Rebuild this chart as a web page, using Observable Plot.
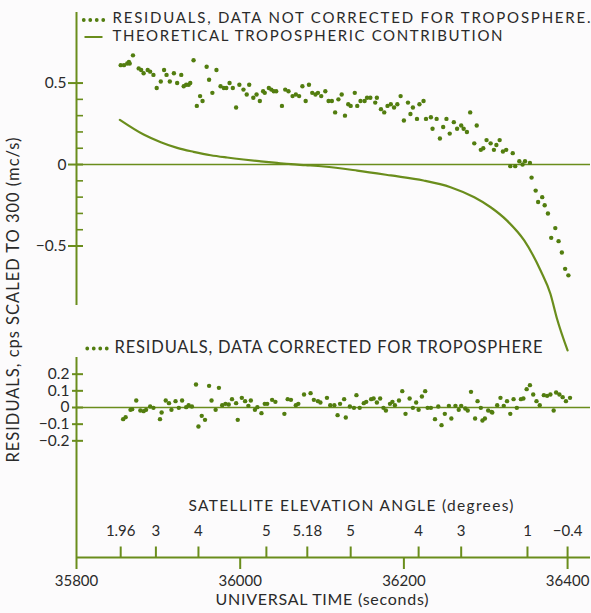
<!DOCTYPE html>
<html>
<head>
<meta charset="utf-8">
<script src="https://cdn.jsdelivr.net/npm/d3@7"></script>
<script src="https://cdn.jsdelivr.net/npm/@observablehq/plot@0.6"></script>
<style>
  html, body { margin: 0; padding: 0; background: #fcfbfc; }
  #chart { position: relative; width: 591px; height: 613px; overflow: hidden; }
  #chart svg { position: absolute; left: 0; top: 0; }
</style>
</head>
<body>
<div id="chart"></div>
<script>
// ---------- data ----------
const timeTicks = [35800, 36000, 36200, 36400];
const xDomain = [35800, 36428];

// Residuals, data NOT corrected for troposphere (top panel)
const uncorrT = [35854,35858,35862,35864,35865,35869,35876,35879,35882,35887,
  35890,35894,35898,35903,35907,35910,35914,35919,35923,35928,
  35931,35934,35937,35939,35943,35947,35951,35954,35959,35962,
  35966,35971,35976,35980,35983,35987,35991,35995,35999,36004,
  36008,36011,36016,36020,36024,36028,36030,36035,36038,36041,
  36044,36051,36055,36059,36064,36068,36072,36076,36080,36084,
  36088,36092,36095,36099,36104,36108,36112,36116,36120,36124,
  36128,36132,36135,36140,36143,36147,36152,36155,36159,36165,
  36167,36172,36176,36180,36184,36188,36192,36196,36200,36205,
  36208,36211,36216,36219,36224,36227,36233,36235,36240,36244,
  36248,36252,36256,36261,36265,36270,36273,36277,36281,36286,
  36289,36294,36297,36301,36306,36310,36313,36317,36321,36325,
  36330,36333,36336,36341,36345,36348,36354,36356,36361,36364,
  36369,36372,36376,36380,36385,36389,36393,36397,36401];
const uncorrV = [0.61,0.61,0.62,0.63,0.62,0.67,0.59,0.58,0.56,0.58,
  0.57,0.55,0.47,0.51,0.58,0.55,0.51,0.56,0.50,0.55,
  0.48,0.49,0.49,0.50,0.64,0.36,0.42,0.39,0.60,0.52,
  0.44,0.58,0.48,0.47,0.47,0.50,0.47,0.35,0.49,0.46,
  0.43,0.49,0.41,0.43,0.39,0.45,0.44,0.47,0.46,0.45,
  0.45,0.36,0.46,0.45,0.42,0.43,0.42,0.48,0.39,0.49,
  0.44,0.43,0.44,0.42,0.45,0.39,0.39,0.32,0.40,0.43,
  0.30,0.37,0.36,0.44,0.36,0.39,0.39,0.41,0.41,0.38,
  0.41,0.34,0.32,0.36,0.37,0.35,0.37,0.42,0.27,0.38,
  0.31,0.35,0.28,0.37,0.39,0.28,0.29,0.22,0.28,0.16,
  0.23,0.28,0.19,0.26,0.22,0.24,0.22,0.20,0.32,0.13,
  0.24,0.09,0.10,0.15,0.13,0.09,0.12,0.15,0.08,0.09,
  -0.01,0.07,-0.01,0.02,0.00,0.02,0.01,-0.08,-0.16,-0.23,
  -0.20,-0.25,-0.30,-0.45,-0.39,-0.47,-0.54,-0.64,-0.68];

// Theoretical tropospheric contribution (top panel line)
const theoT = [35853,35882,35903,35923,35943,35964,35984,36004,36025,36045,36062,36080,
  36102,36143,36184,36224,36257,36286,36306,36326,36347,36367,36379,36387,36400];
const theoV = [0.274,0.184,0.137,0.102,0.078,0.057,0.043,0.031,0.020,0.010,0.002,-0.004,
  -0.012,-0.037,-0.067,-0.098,-0.139,-0.201,-0.262,-0.344,-0.466,-0.650,-0.793,-0.945,-1.141];

// Residuals, data corrected for troposphere (bottom panel)
const corrT = [35857,35860,35866,35868,35873,35878,35882,35885,35890,35894,
  35902,35904,35909,35913,35916,35921,35925,35929,35934,35937,
  35941,35946,35949,35953,35957,35962,35965,35970,35974,35978,
  35982,35986,35990,35995,35997,36002,36006,36010,36013,36018,
  36021,36026,36030,36033,36039,36043,36054,36058,36062,36068,
  36071,36078,36086,36090,36095,36098,36106,36110,36115,36119,
  36122,36127,36129,36134,36139,36142,36146,36151,36154,36160,
  36163,36167,36171,36175,36178,36183,36186,36189,36194,36198,
  36202,36207,36211,36215,36218,36222,36226,36229,36233,36238,
  36242,36246,36250,36255,36258,36263,36267,36270,36275,36278,
  36282,36287,36290,36294,36296,36299,36303,36307,36308,36314,
  36318,36322,36326,36330,36334,36338,36343,36346,36350,36354,
  36358,36362,36366,36371,36375,36379,36383,36386,36390,36394,
  36398,36403];
const corrV = [-0.070,-0.058,-0.014,-0.010,0.042,-0.018,-0.022,-0.014,0.006,-0.002,
  -0.070,-0.030,0.042,0.026,-0.014,0.038,-0.002,0.042,0.002,0.014,
  0.006,0.138,-0.114,-0.050,-0.074,0.130,0.042,-0.014,0.118,0.014,
  0.022,0.018,0.050,0.026,-0.074,0.058,0.038,0.010,0.042,-0.014,
  0.002,-0.034,0.022,0.022,0.046,0.034,-0.038,0.050,0.046,0.014,
  0.022,0.078,0.086,0.046,0.038,0.030,0.058,0.014,0.014,-0.046,
  0.022,0.050,-0.060,0.006,-0.002,0.074,-0.002,0.026,0.034,0.050,
  0.054,0.030,0.054,-0.002,-0.018,0.022,0.034,0.014,0.042,0.098,
  -0.038,0.054,-0.002,0.030,-0.014,0.066,0.098,-0.002,-0.002,-0.070,
  0.006,-0.106,-0.038,0.010,-0.066,0.010,-0.014,0.010,-0.006,-0.018,
  0.094,-0.066,0.038,-0.002,-0.078,-0.066,-0.018,-0.026,-0.030,0.014,
  0.058,0.010,0.038,-0.038,0.050,-0.002,0.050,0.054,0.110,0.134,
  0.078,0.038,0.014,0.074,0.070,0.078,-0.018,0.090,0.078,0.062,
  0.038,0.058];

// Satellite elevation angle scale (time position -> label)
const elevT = [35854, 35897, 35949, 36032, 36082, 36135, 36218, 36270, 36351, 36400];
const elevLabels = ["1.96", "3", "4", "5", "5.18", "5", "4", "3", "1", "\u22120.4"];

// Y ticks
const topDomain = [-0.865, 0.933];
const topMajor = [-0.5, 0, 0.5];
const topMinor = [-0.4, -0.3, -0.2, -0.1, 0.1, 0.2, 0.3, 0.4];
const botDomain = [-0.9, 0.3];
const botMajor = [-0.2, -0.1, 0, 0.1, 0.2];

// Texts
const legendTop1 = "RESIDUALS, DATA NOT CORRECTED FOR TROPOSPHERE.";
const legendTop2 = "THEORETICAL TROPOSPHERIC CONTRIBUTION";
const legendBot = "RESIDUALS, DATA CORRECTED FOR TROPOSPHERE";
const yTitle = "RESIDUALS, cps SCALED TO 300 (mc/s)";
const elevTitle = "SATELLITE ELEVATION ANGLE (degrees)";
const xTitle = "UNIVERSAL TIME (seconds)";

// ---------- styling ----------
const W = 591, H = 613;
const G = "#6a8d1c", DOT = "#527d0f", TXT = "#2a2a2a";
const FONT = "Lato, 'Open Sans', sans-serif";
const fmt = d => d === 0 ? "0" : (d < 0 ? "\u2212" : "") + Math.abs(d);

const uncorr = uncorrT.map((t, i) => ({t, v: uncorrV[i]}));
const theo = theoT.map((t, i) => ({t, v: theoV[i]}));
const corr = corrT.map((t, i) => ({t, v: corrV[i]}));

const fourDots = {draw(ctx) { for (let i = 0; i < 4; i++) { const cx = -9.75 + i * 6.5; ctx.moveTo(cx + 1.9, 0); ctx.arc(cx, 0, 1.9, 0, 2 * Math.PI); } }};
const dash = {draw(ctx) { ctx.moveTo(-9, -1); ctx.lineTo(9, -1); ctx.lineTo(9, 1); ctx.lineTo(-9, 1); ctx.closePath(); }};

const common = {
  width: W, height: H, marginLeft: 76, marginRight: 1,
  style: {background: "transparent", fontFamily: FONT, color: TXT, overflow: "visible"}
};

// ---------- top panel ----------
const topPlot = Plot.plot({
  ...common,
  marginTop: 12, marginBottom: H - 305,
  x: {domain: xDomain, axis: null},
  y: {domain: topDomain, label: null},
  marks: [
    Plot.ruleX([xDomain[0]], {stroke: G, strokeWidth: 2}),
    Plot.ruleY([0], {stroke: G, strokeWidth: 1.6}),
    Plot.axisY({ticks: topMinor, tickSize: 7, dx: 7, fill: "none", stroke: G, strokeWidth: 1.6, label: null}),
    Plot.axisY({ticks: topMajor, tickSize: 15, dx: 7, tickPadding: 2, tickFormat: fmt, stroke: G, strokeWidth: 2, fill: TXT, fontSize: 15.5, label: null}),
    Plot.line(theo, {x: "t", y: "v", curve: "monotone-x", stroke: G, strokeWidth: 2.2}),
    Plot.dot(uncorr, {x: "t", y: "v", r: 2.2, fill: DOT}),
    Plot.dot([0], {frameAnchor: "top-left", dx: 17, dy: 7.5, r: 5, symbol: fourDots, fill: DOT}),
    Plot.dot([0], {frameAnchor: "top-left", dx: 17, dy: 24.5, r: 5, symbol: dash, fill: G}),
    Plot.text([legendTop1], {frameAnchor: "top-left", dx: 36, dy: 6, textAnchor: "start", lineAnchor: "middle", fontSize: 15, fill: TXT}),
    Plot.text([legendTop2], {frameAnchor: "top-left", dx: 36, dy: 24, textAnchor: "start", lineAnchor: "middle", fontSize: 15, fill: TXT})
  ]
});

// ---------- bottom panel + axes ----------
const bottomPlot = Plot.plot({
  ...common,
  marginTop: 357, marginBottom: 56,
  x: {domain: xDomain, label: null},
  y: {domain: botDomain, label: null},
  marks: [
    Plot.ruleX([xDomain[0]], {stroke: G, strokeWidth: 2}),
    Plot.ruleY([botDomain[0]], {stroke: G, strokeWidth: 2}),
    Plot.ruleY([0], {stroke: G, strokeWidth: 1.6}),
    Plot.axisY({ticks: botMajor, tickSize: 11, dx: 7, tickPadding: 3, tickFormat: fmt, stroke: G, strokeWidth: 2, fill: TXT, fontSize: 15.5, label: null}),
    Plot.dot(corr, {x: "t", y: "v", r: 2.2, fill: DOT}),
    Plot.dot([0], {frameAnchor: "top-left", dx: 20.5, dy: -9, r: 5, symbol: fourDots, fill: DOT}),
    Plot.text([legendBot], {frameAnchor: "top-left", dx: 38, dy: -10, textAnchor: "start", lineAnchor: "middle", fontSize: 16.5, fill: TXT}),
    // satellite elevation angle scale
    Plot.ruleX(elevT, {x: d => d, insetTop: 189.5, stroke: G, strokeWidth: 2}),
    Plot.text(elevT, {x: d => d, text: (d, i) => elevLabels[i], frameAnchor: "bottom", dy: -22, fontSize: 15, fill: TXT}),
    Plot.text([elevTitle], {frameAnchor: "bottom", textAnchor: "middle", dx: 17.5, dy: -46.5, fontSize: 15.5, fill: TXT}),
    // universal time axis
    Plot.axisX({ticks: timeTicks, tickSize: 12, tickPadding: 6, tickFormat: d => String(d), stroke: G, strokeWidth: 2, fill: TXT, fontSize: 15, label: null}),
    Plot.text([xTitle], {frameAnchor: "bottom", textAnchor: "middle", dx: -11.5, dy: 47, fontSize: 16, fill: TXT}),
    // shared y title
    Plot.text([yTitle], {frameAnchor: "left", textAnchor: "middle", lineAnchor: "middle", dx: -63, dy: -157.5, rotate: -90, fontSize: 16.5, fill: TXT})
  ]
});

const chart = document.getElementById("chart");
chart.append(topPlot, bottomPlot);

function fit(str, len) {
  d3.select(chart).selectAll("text")
    .filter(function () { return this.textContent === str; })
    .attr("textLength", len).attr("lengthAdjust", "spacing");
}
fit(legendTop1, 478);
fit(legendTop2, 390);
fit(legendBot, 428);
fit(elevTitle, 325);
fit(xTitle, 213);
fit(yTitle, 325);
</script>
</body>
</html>
